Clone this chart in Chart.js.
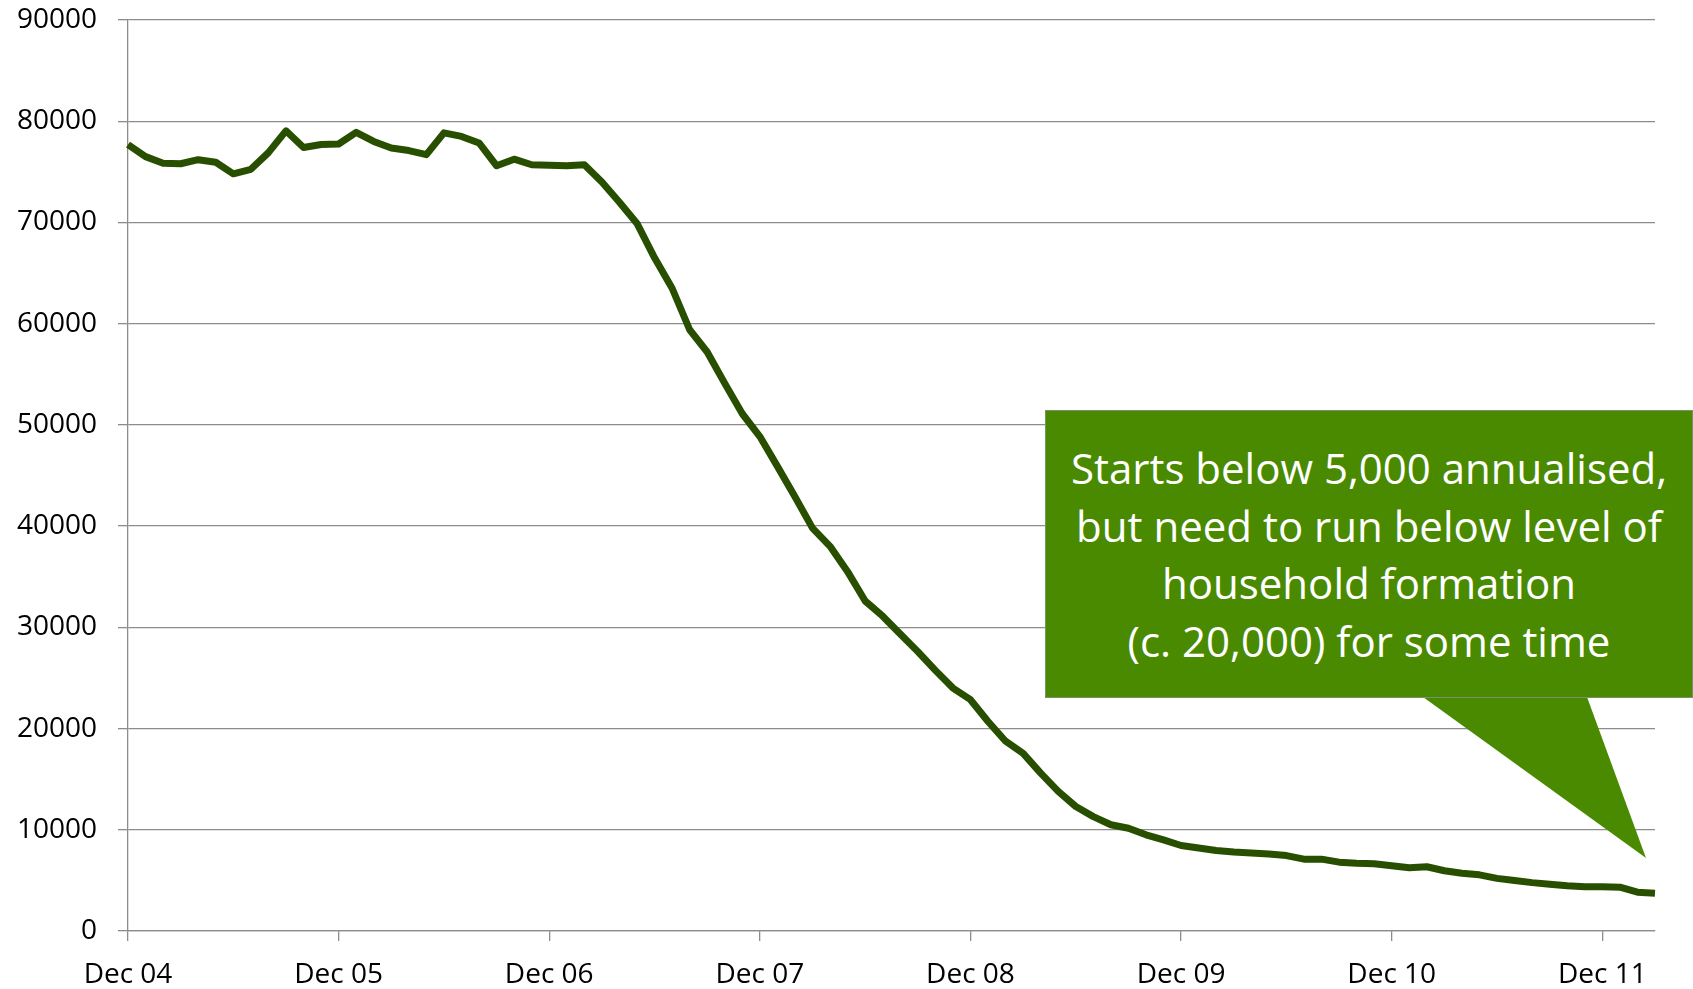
<!DOCTYPE html>
<html>
<head>
<meta charset="utf-8">
<script src="https://cdn.jsdelivr.net/npm/chart.js@4.4.0/dist/chart.umd.min.js"></script>
<style>
  html, body { margin: 0; padding: 0; background: #fff; }
  #wrap { position: relative; width: 1693px; height: 989px; }
  #callout {
    position: absolute; left: 1045px; top: 410px; width: 648px; height: 288px;
    box-sizing: border-box; border: 1px solid #7a9366; background: #4a8a00;
    display: flex; align-items: center; justify-content: center; text-align: center;
    color: #fff; font-family: 'Open Sans', sans-serif; font-size: 42px; line-height: 57.5px;
  }
  #pointer {
    position: absolute; left: 1423px; top: 697px; width: 223px; height: 161px;
    background: #4a8a00; clip-path: polygon(0 0, 164px 0, 100% 100%);
  }
</style>
</head>
<body>
<div id="wrap">
  <canvas id="houseChart" width="1693" height="989"></canvas>
  <div id="pointer"></div>
  <div id="callout">Starts below 5,000 annualised,<br>but need to run below level of<br>household formation<br>(c. 20,000) for some time</div>
</div>
<script>
// month labels, Dec 04 .. Mar 12
const monthNames = ['Jan', 'Feb', 'Mar', 'Apr', 'May', 'Jun', 'Jul', 'Aug', 'Sep', 'Oct', 'Nov', 'Dec'];
const monthLabels = [];
for (let i = 0; i < 88; i++) {
    const m = (11 + i) % 12;
    const yy = 4 + Math.floor((11 + i) / 12);
    monthLabels.push(monthNames[m] + ' ' + String(yy).padStart(2, '0'));
}

// annualised values
const values = [
    77700, 76500, 75850, 75800, 76200, 75950, 74800, 75250, 76900, 79050, 77400, 77700,
    77750, 78900, 78000, 77350, 77100, 76700, 78850, 78500, 77850, 75600, 76250, 75700,
    75650, 75600, 75700, 74000, 72000, 69900, 66500, 63500, 59400, 57200, 54100, 51100,
    48850, 45900, 42900, 39800, 38000, 35500, 32600, 31100, 29350, 27600, 25750, 24000,
    22850, 20700, 18750, 17550, 15600, 13800, 12300, 11300, 10500, 10150, 9500, 9000,
    8450, 8200, 7950, 7800, 7700, 7600, 7450, 7100, 7100, 6800, 6700, 6650,
    6450, 6250, 6350, 5950, 5700, 5550, 5200, 4980, 4780, 4620, 4480, 4380,
    4380, 4330, 3830, 3730
];

const yMin = 0;
const yMax = 90000;
const yStep = 10000;

const gridGrey = '#8c8c8c';
const tickFont = { family: 'Open Sans', size: 28 };

const ctx = document.getElementById('houseChart').getContext('2d');
const houseChart = new Chart(ctx, {
    type: 'line',
    data: {
        labels: monthLabels,
        datasets: [{
            data: values,
            borderColor: '#284f00',
            borderWidth: 7,
            borderJoinStyle: 'round',
            pointRadius: 0,
            tension: 0,
            fill: false
        }]
    },
    options: {
        responsive: false,
        animation: false,
        devicePixelRatio: 1,
        layout: { padding: { top: 20, right: 38, left: 0, bottom: 0 } },
        plugins: { legend: { display: false }, tooltip: { enabled: false } },
        scales: {
            x: {
                type: 'category',
                afterFit: (scale) => {
                    scale.height = 58;
                    scale.paddingLeft = 0;
                    scale.paddingRight = 0;
                },
                grid: {
                    drawOnChartArea: false,
                    tickLength: 10,
                    lineWidth: 1.3,
                    color: (c) => (c.index % 12 === 0 ? gridGrey : 'rgba(0,0,0,0)')
                },
                border: { color: gridGrey, width: 1.3 },
                ticks: {
                    autoSkip: false,
                    maxRotation: 0,
                    minRotation: 0,
                    padding: 17,
                    color: '#000',
                    font: tickFont,
                    callback: function (v, i) { return i % 12 === 0 ? this.getLabelForValue(v) : ''; }
                }
            },
            y: {
                min: yMin,
                max: yMax,
                afterFit: (scale) => {
                    scale.width = 128;
                    scale.paddingTop = 0;
                    scale.paddingBottom = 0;
                },
                grid: { color: gridGrey, lineWidth: 1.3, tickLength: 10 },
                border: { color: gridGrey, width: 1.3 },
                ticks: {
                    stepSize: yStep,
                    padding: 21,
                    color: '#000',
                    font: tickFont,
                    callback: (v) => String(v)
                }
            }
        }
    }
});
</script>
</body>
</html>
